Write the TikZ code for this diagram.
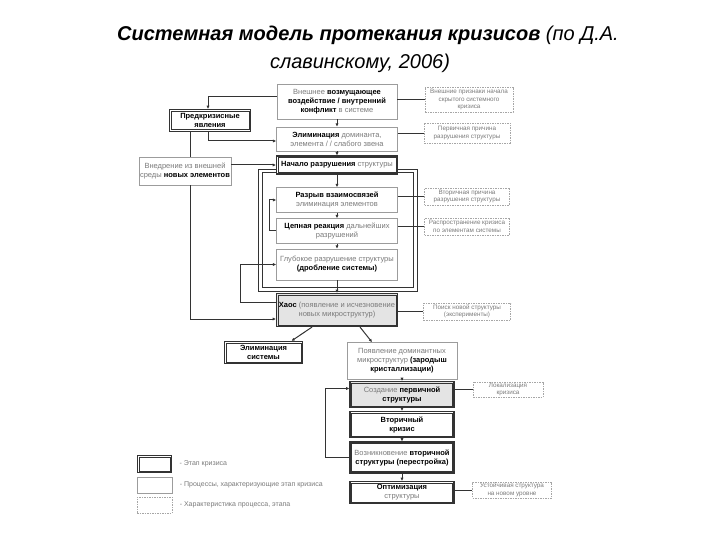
\documentclass[tikz,border=0pt]{standalone}
\usepackage{fontspec}
\setmainfont{Liberation Sans}
\usetikzlibrary{arrows.meta, positioning}
\definecolor{frame-line}{HTML}{333333}
\definecolor{box-line}{HTML}{9C9C9C}
\definecolor{note-line}{HTML}{A6A6A6}
\definecolor{soft-text}{HTML}{7A7A7A}
\definecolor{stage-fill}{HTML}{E4E4E4}
\newcommand{\kword}[1]{\textbf{\textcolor{black}{#1}}}
\tikzset{
  procbox/.style={
    draw=box-line, line width=0.7pt, fill=white, inner sep=1pt,
    align=center, text=soft-text, font=\fontsize{7.5}{9}\selectfont
  },
  stagebox/.style={procbox, draw=frame-line, line width=1.2pt},
  stageinner/.style={draw=frame-line, line width=0.6pt},
  notebox/.style={
    draw=note-line, dashed, dash pattern=on 1.5pt off 1pt, line width=0.5pt,
    inner sep=1pt, align=center, text=soft-text, font=\fontsize{6.3}{7.5}\selectfont
  },
  keytext/.style={text=soft-text, font=\fontsize{7}{8}\selectfont},
  flow/.style={draw=frame-line, line width=1pt, -{Latex[length=3.2pt,width=3.2pt]}},
  link/.style={draw=frame-line, line width=0.6pt}
}

\begin{document}
\begin{tikzpicture}[x=1pt, y=-1pt]
  \useasboundingbox (0,0) rectangle (720,540);

  % ---- Title ---------------------------------------------------------------
  \node[font=\fontsize{20}{23}\selectfont] (title-a) at (368,35)
    {\textbf{\textit{Системная модель протекания кризисов}} \textit{(по Д.А.}};
  \node[font=\fontsize{20}{23}\selectfont] (title-b) at (360,63)
    {\textit{славинскому, 2006)}};

  % ---- Frame round the destruction processes -------------------------------
  \draw[frame-line, line width=0.9pt] (258,169) rectangle (417,291);
  \draw[frame-line, line width=0.6pt] (262,172.5) rectangle (413,287.5);

  % ---- Main column: stages and processes ----------------------------------
  \node[procbox, minimum width=120, minimum height=35] (ext) at (337,101.5)
    {Внешнее \kword{возмущающее}\\\kword{воздействие / внутренний}\\\kword{конфликт} в системе};
  \node[procbox, minimum width=121, minimum height=24] (elim) at (337,139)
    {\kword{Элиминация} доминанта,\\элемента / / слабого звена};
  \node[stagebox, minimum width=121, minimum height=18] (start) at (337,165)
    {\kword{Начало разрушения} структуры};
  \node[procbox, minimum width=121, minimum height=25] (rupt) at (337,200)
    {\kword{Разрыв взаимосвязей}\\элиминация элементов};
  \node[procbox, minimum width=121, minimum height=25] (chain) at (337,231)
    {\kword{Цепная реакция} дальнейших\\разрушений};
  \node[procbox, minimum width=121, minimum height=31] (deep) at (337,264.5)
    {Глубокое разрушение структуры\\\kword{(дробление системы)}};
  \node[stagebox, fill=stage-fill, minimum width=121, minimum height=33] (chaos) at (337,310)
    {\kword{Хаос} (появление и исчезновение\\новых микроструктур)};

  \node[stagebox, minimum width=78, minimum height=22] (death) at (263.5,352.5)
    {\kword{Элиминация}\\\kword{системы}};
  \node[procbox, minimum width=110, minimum height=37] (seed) at (402,361)
    {Появление доминантных\\микроструктур \kword{(зародыш}\\\kword{кристаллизации)}};
  \node[stagebox, fill=stage-fill, minimum width=104, minimum height=26] (first) at (402,394.5)
    {Создание \kword{первичной}\\\kword{структуры}};
  \node[stagebox, minimum width=104, minimum height=26] (second) at (402,424.5)
    {\kword{Вторичный}\\\kword{кризис}};
  \node[stagebox, minimum width=104, minimum height=31] (rebuild) at (402,457.5)
    {Возникновение \kword{вторичной}\\\kword{структуры (перестройка)}};
  \node[stagebox, minimum width=104, minimum height=22] (optim) at (402,492.5)
    {\kword{Оптимизация}\\структуры};

  % ---- Left side ------------------------------------------------------------
  \node[stagebox, minimum width=81, minimum height=22] (pre) at (210,120.5)
    {\kword{Предкризисные}\\\kword{явления}};
  \node[procbox, minimum width=92, minimum height=28] (inject) at (185,171)
    {Внедрение из внешней\\среды \kword{новых элементов}};

  % ---- Notes on the right -----------------------------------------------------
  \node[notebox, minimum width=88, minimum height=25] (n-ext) at (469,99.5)
    {Внешние признаки начала\\скрытого системного\\кризиса};
  \node[notebox, minimum width=86, minimum height=20] (n-elim) at (467,133)
    {Первичная причина\\разрушения структуры};
  \node[notebox, minimum width=85, minimum height=17] (n-rupt) at (467,196.5)
    {Вторичная причина\\разрушения структуры};
  \node[notebox, minimum width=85, minimum height=17] (n-chain) at (467,226.5)
    {Распространение кризиса\\по элементам системы};
  \node[notebox, minimum width=87, minimum height=17] (n-chaos) at (467,311.5)
    {Поиск новой структуры\\(эксперименты)};
  \node[notebox, minimum width=70, minimum height=15] (n-first) at (508,389.5)
    {Локализация\\кризиса};
  \node[notebox, minimum width=79, minimum height=16] (n-optim) at (512,490)
    {Устойчивая структура\\на новом уровне};

  % ---- Key ------------------------------------------------------------------
  \node[stagebox, minimum width=34, minimum height=17] (key-stage) at (154.5,464) {};
  \node[procbox, minimum width=35, minimum height=16] (key-proc) at (154.5,485) {};
  \node[notebox, minimum width=35, minimum height=16] (key-note) at (154.5,505) {};
  \node[keytext, right=4pt of key-stage] (key-stage-txt) {- Этап кризиса};
  \node[keytext, right=4pt of key-proc] (key-proc-txt) {- Процессы, характеризующие этап кризиса};
  \node[keytext, right=4pt of key-note] (key-note-txt) {- Характеристика процесса, этапа};

  % inner line of every stage box
  \foreach \s in {start, chaos, death, first, second, rebuild, optim, pre, key-stage}
    \draw[stageinner] ([shift={(2.3pt,2.3pt)}]\s.south west)
      rectangle ([shift={(-2.3pt,-2.3pt)}]\s.north east);

  % ---- Flow down the column ---------------------------------------------------
  \foreach \a/\b in {ext/elim, elim/start, start/rupt, rupt/chain, chain/deep,
                     deep/chaos, seed/first, first/second, second/rebuild, rebuild/optim}
    \draw[flow] (\a) -- (\b);
  \draw[flow] ([xshift=-25pt]chaos.south) -- ([xshift=28pt]death.north);
  \draw[flow] ([xshift=23pt]chaos.south) -- ([xshift=-30pt]seed.north);

  % ---- Feedback loops -------------------------------------------------------
  \draw[flow] (chain.west) -- ++(-7,0) |- (rupt.west);
  \draw[flow] ([yshift=8pt]chaos.west) -- ++(-35,0) |- (deep.west);
  \draw[flow] (rebuild.west) -- ++(-24,0) |- ([yshift=6pt]first.west);

  % ---- Left side links --------------------------------------------------------
  \draw[flow] ([yshift=4.5pt]ext.west) -| ([xshift=-2pt]pre.north);
  \draw[flow] ([xshift=-2pt]pre.south) |- ([yshift=-2pt]elim.west);
  \draw[link, line width=1pt] ([xshift=-20pt]pre.south) -- ([xshift=5pt]inject.north);
  \draw[flow] (inject.east |- start.west) -- (start.west);
  \draw[flow] ([xshift=5pt]inject.south) |- ([yshift=-9pt]chaos.west);

  % ---- Note links -------------------------------------------------------------
  \foreach \b/\n in {ext/n-ext, elim/n-elim, rupt/n-rupt, chain/n-chain,
                     chaos/n-chaos, first/n-first, optim/n-optim}
    \draw[link] (\b.east |- \n.west) -- (\n.west);

\end{tikzpicture}
\end{document}
